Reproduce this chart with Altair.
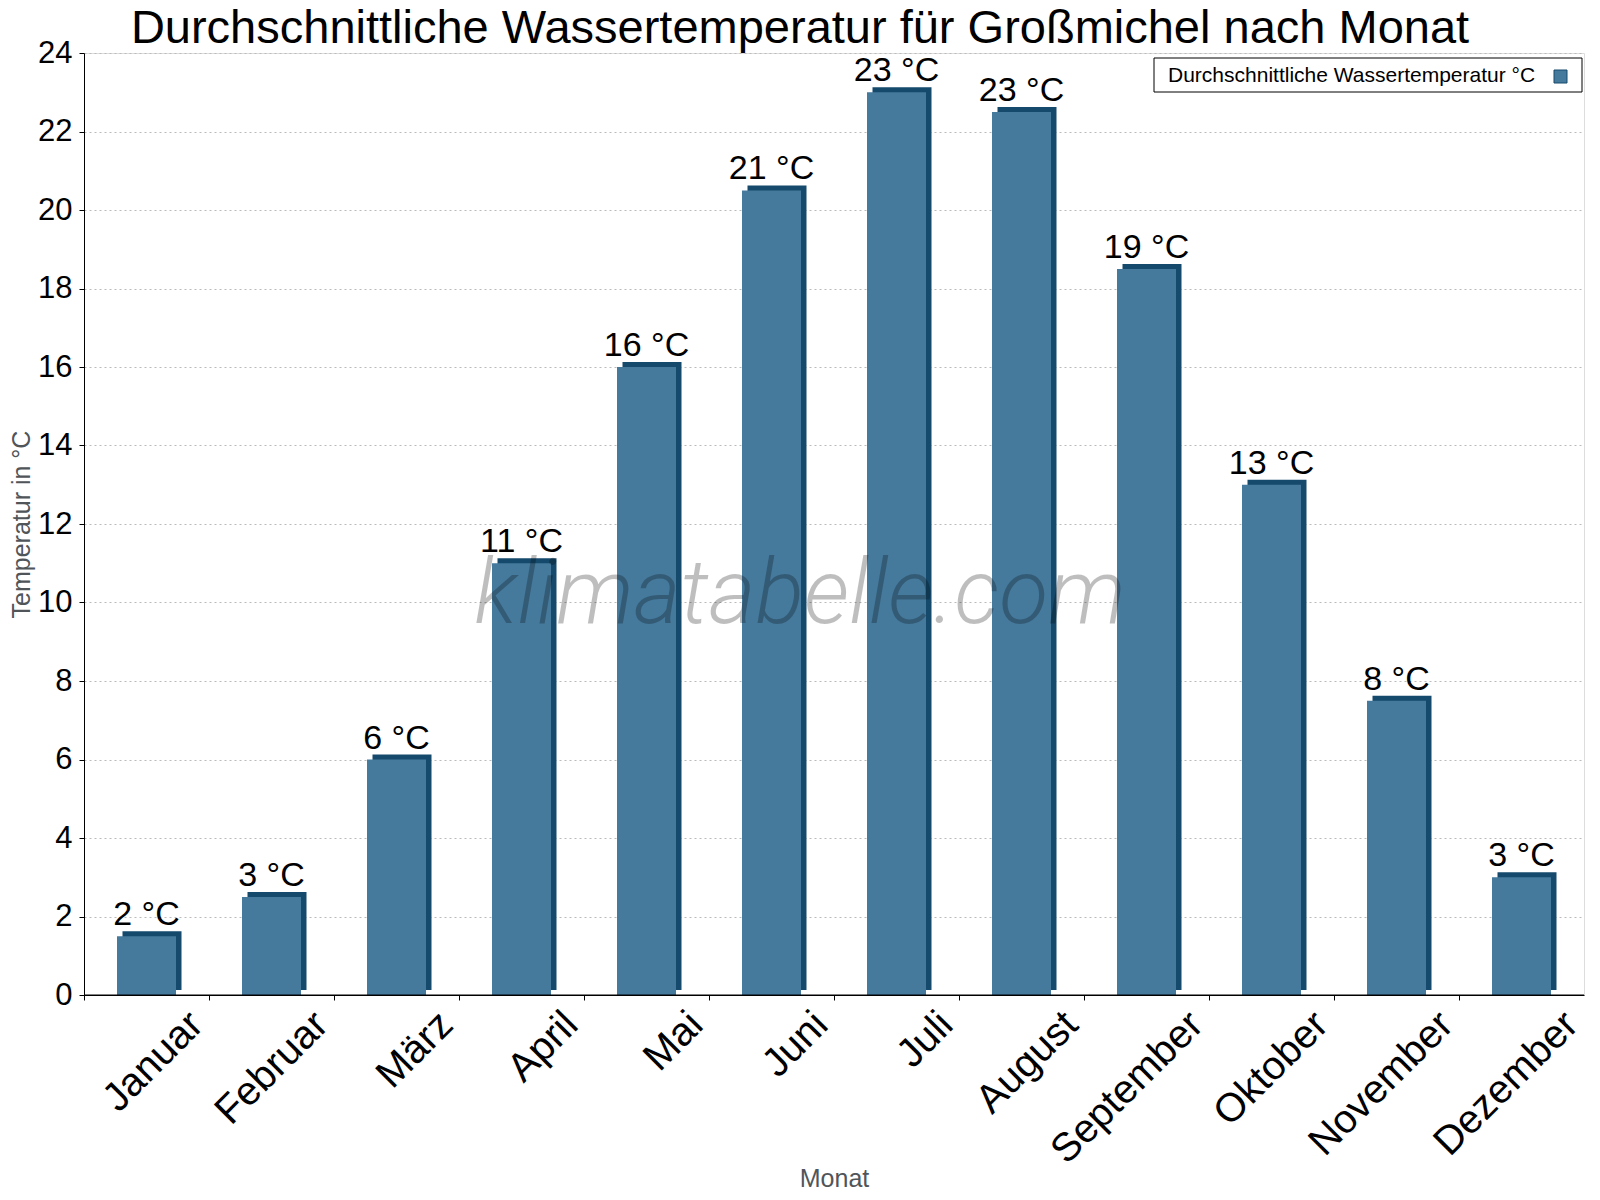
import math
import altair as alt
import pandas as pd

months = ["Januar", "Februar", "März", "April", "Mai", "Juni", "Juli",
          "August", "September", "Oktober", "November", "Dezember"]
temps = [1.5, 2.5, 6, 11, 16, 20.5, 23, 22.5, 18.5, 13, 7.5, 3]
labels = [f"{int(math.floor(v + 0.5))} °C" for v in temps]
y_ticks = list(range(0, 25, 2))

title_text = "Durchschnittliche Wassertemperatur für Großmichel nach Monat"
legend_text = "Durchschnittliche Wassertemperatur °C"
watermark = "klimatabelle.com"

FONT = "Liberation Sans"
FRONT = "#457a9d"
DARK = "#164a6c"
GRAY = "#50555a"

df = pd.DataFrame({"Monat": months, "Temp": temps, "Label": labels})

x_enc = alt.X(
    "Monat:N", sort=months, title="Monat",
    scale=alt.Scale(paddingInner=0, paddingOuter=0),
    axis=alt.Axis(
        bandPosition=0, labelAngle=315, labelAlign="right", labelBaseline="top",
        labelOffset=36, labelPadding=4, labelFontSize=40, labelFont=FONT,
        labelColor="black", labelOverlap=False, labelBound=False, labelFlush=False,
        labelLimit=0,
        tickSize=5, tickColor="black", domainColor="black", grid=False,
        titleFont=FONT, titleFontSize=25, titleFontWeight="normal", titleColor=GRAY,
        titleY=191, titleBaseline="alphabetic",
    ),
)
y_enc = alt.Y(
    "Temp:Q", title="Temperatur in °C",
    scale=alt.Scale(domain=[0, 24], nice=False),
    axis=alt.Axis(
        values=y_ticks, labelFontSize=31, labelFont=FONT, labelColor="black",
        labelPadding=7, tickSize=5, tickColor="black", domainColor="black",
        grid=True, gridColor="#bbbbbb", gridDash=[2, 3],
        titleFont=FONT, titleFontSize=25, titleFontWeight="normal", titleColor=GRAY,
        titleX=-63, titleY=471, titleAngle=270, titleBaseline="middle", titleAlign="center",
    ),
)

base = alt.Chart(df)
back = base.mark_bar(size=59, color=DARK, xOffset=5.5, yOffset=-5, y2Offset=-5).encode(x=x_enc, y=y_enc)
front = base.mark_bar(size=59, color=FRONT).encode(x=x_enc, y=y_enc)
zero = alt.Chart(pd.DataFrame({"z": [0]})).mark_rule(color="black", strokeWidth=1).encode(y=alt.Y("z:Q"))
text = base.mark_text(dy=-11, baseline="alphabetic", fontSize=34, font=FONT, color="black").encode(
    x=x_enc, y=y_enc, text="Label:N")

one = pd.DataFrame({"t": [watermark], "l": [legend_text], "h": [title_text]})
title = alt.Chart(one).mark_text(
    font=FONT, fontSize=47, color="black", align="center", baseline="alphabetic"
).encode(x=alt.value(716), y=alt.value(-10), text="h:N")
wm = alt.Chart(one).mark_text(
    font="Roboto", fontStyle="italic", fontWeight=300, fontSize=90, color="black",
    opacity=0.25, align="center", baseline="alphabetic",
).encode(x=alt.value(716), y=alt.value(570), text="t:N")
leg_box = alt.Chart(one).mark_rect(fill="white", stroke="black", strokeWidth=1).encode(
    x=alt.value(1070), x2=alt.value(1498), y=alt.value(5), y2=alt.value(39))
leg_text = alt.Chart(one).mark_text(
    font=FONT, fontSize=21, color="black", align="left", baseline="alphabetic"
).encode(x=alt.value(1084), y=alt.value(29), text="l:N")
leg_sw = alt.Chart(one).mark_rect(fill=FRONT, stroke=DARK, strokeWidth=1).encode(
    x=alt.value(1470), x2=alt.value(1483), y=alt.value(17), y2=alt.value(30))

chart = alt.layer(back, front, zero, text, title, wm, leg_box, leg_text, leg_sw).properties(
    width=1500, height=942,
    autosize=alt.AutoSizeParams(type="none"),
    padding={"left": 76, "top": 45, "right": 6, "bottom": 195},
).configure_view(stroke=None).configure(background="white")

chart.save("out.html", embed_options={"renderer": "svg", "actions": False})
